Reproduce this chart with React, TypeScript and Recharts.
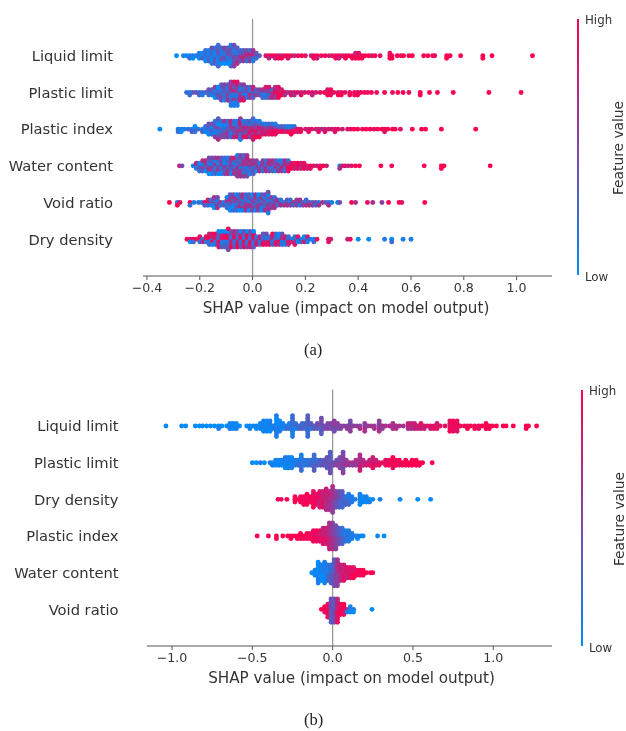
import React from "react";
import { ScatterChart, Scatter, XAxis, YAxis, ReferenceLine, Label } from "recharts";

type Col = [number, string];

// Each column: SHAP value, then one digit per stacked dot (feature value 0 low .. 9 high), centre outward.
const featuresA = ["Liquid limit", "Plastic limit", "Plastic index", "Water content", "Void ratio", "Dry density"];
const ticksA = [-0.4, -0.2, 0, 0.2, 0.4, 0.6, 0.8, 1.0];

const aLiquid: Col[] = [[-0.288,"0"],[-0.262,"1"],[-0.25,"0"],[-0.238,"12"],[-0.226,"10"],[-0.214,"1"],[-0.202,"201"],[-0.19,"130"],[-0.178,"21302"],[-0.166,"12031"],[-0.154,"2130214"],[-0.142,"1204132"],[-0.13,"213041322"],[-0.118,"1324102"],[-0.106,"2413205"],[-0.094,"3142403"],[-0.082,"324130421"],[-0.07,"452314254"],[-0.058,"4315263"],[-0.046,"56342"],[-0.034,"67453"],[-0.022,"75624"],[-0.01,"64752"],[0.002,"53716"],[0.014,"623"],[0.026,"3"],[0.05,"8"],[0.062,"86"],[0.074,"9"],[0.086,"87"],[0.098,"89"],[0.11,"79"],[0.122,"8"],[0.134,"98"],[0.146,"8"],[0.158,"7"],[0.172,"8"],[0.186,"9"],[0.2,"8"],[0.222,"7"],[0.232,"89"],[0.244,"97"],[0.26,"8"],[0.275,"9"],[0.29,"7"],[0.302,"8"],[0.315,"89"],[0.327,"97"],[0.34,"8"],[0.352,"89"],[0.364,"9"],[0.378,"89"],[0.39,"987"],[0.402,"998"],[0.414,"89"],[0.426,"9"],[0.44,"9"],[0.452,"8"],[0.464,"9"],[0.483,"8"],[0.52,"898"],[0.528,"99"],[0.548,"9"],[0.562,"8"],[0.572,"9"],[0.592,"9"],[0.605,"9"],[0.648,"9"],[0.664,"9"],[0.682,"9"],[0.69,"8"],[0.735,"99"],[0.748,"9"],[0.788,"9"],[0.872,"99"],[0.907,"9"],[1.06,"9"]];
const aPlastic: Col[] = [[-0.25,"2"],[-0.238,"12"],[-0.226,"3"],[-0.214,"4"],[-0.202,"13"],[-0.19,"21"],[-0.178,"3"],[-0.166,"124"],[-0.154,"213"],[-0.142,"32105"],[-0.13,"14230"],[-0.118,"2315243"],[-0.106,"4132405"],[-0.094,"3524163"],[-0.082,"4251736251"],[-0.07,"5172364081"],[-0.058,"6241537281"],[-0.046,"3526174"],[-0.034,"4136285"],[-0.022,"51324"],[-0.01,"36152"],[0.002,"24637"],[0.014,"153"],[0.026,"245"],[0.038,"3162"],[0.05,"41527"],[0.062,"62438"],[0.074,"8537"],[0.086,"97856"],[0.098,"98798"],[0.11,"897"],[0.122,"96"],[0.134,"6"],[0.146,"78"],[0.158,"76"],[0.17,"8"],[0.184,"78"],[0.198,"7"],[0.212,"8"],[0.226,"87"],[0.24,"7"],[0.256,"8"],[0.272,"9"],[0.284,"897"],[0.296,"989"],[0.308,"8"],[0.324,"79"],[0.336,"89"],[0.35,"8"],[0.368,"89"],[0.386,"98"],[0.398,"89"],[0.41,"8"],[0.424,"9"],[0.436,"8"],[0.45,"9"],[0.47,"8"],[0.5,"9"],[0.53,"8"],[0.55,"9"],[0.57,"9"],[0.592,"8"],[0.635,"99"],[0.67,"9"],[0.7,"9"],[0.76,"9"],[0.895,"9"],[1.017,"9"]];
const aIndex: Col[] = [[-0.351,"0"],[-0.282,"12"],[-0.27,"10"],[-0.258,"1"],[-0.244,"2"],[-0.23,"13"],[-0.218,"120"],[-0.206,"2"],[-0.19,"13"],[-0.178,"102"],[-0.166,"21304"],[-0.154,"13024"],[-0.142,"2140352"],[-0.13,"315204163"],[-0.118,"4213052"],[-0.106,"1325046"],[-0.094,"3426152"],[-0.082,"4351627"],[-0.07,"5463172"],[-0.058,"4635271"],[-0.046,"564372815"],[-0.034,"6574381"],[-0.022,"7465382"],[-0.01,"5768243"],[0.002,"786539172"],[0.014,"6857492"],[0.026,"7685391"],[0.038,"58672"],[0.05,"76481"],[0.062,"68572"],[0.074,"78692"],[0.086,"69481"],[0.098,"782"],[0.11,"693"],[0.122,"572"],[0.134,"291"],[0.146,"3819"],[0.158,"892"],[0.17,"97"],[0.182,"89"],[0.2,"7"],[0.212,"78"],[0.224,"8"],[0.24,"7"],[0.25,"78"],[0.262,"6"],[0.274,"78"],[0.288,"7"],[0.3,"8"],[0.312,"78"],[0.324,"8"],[0.34,"7"],[0.36,"8"],[0.372,"8"],[0.384,"9"],[0.398,"9"],[0.416,"8"],[0.43,"9"],[0.445,"9"],[0.46,"8"],[0.474,"9"],[0.49,"9"],[0.5,"98"],[0.512,"9"],[0.53,"9"],[0.54,"9"],[0.56,"8"],[0.605,"9"],[0.64,"9"],[0.655,"9"],[0.715,"9"],[0.845,"9"]];
const aWater: Col[] = [[-0.277,"7"],[-0.267,"4"],[-0.225,"1"],[-0.213,"317"],[-0.201,"1402"],[-0.189,"25136"],[-0.177,"14607"],[-0.165,"3516204"],[-0.153,"2615304"],[-0.141,"4162035"],[-0.129,"3516206"],[-0.117,"6142503"],[-0.105,"4613052"],[-0.093,"5216361"],[-0.081,"6342516"],[-0.069,"6215357"],[-0.057,"162536451"],[-0.045,"614526365"],[-0.033,"526361452"],[-0.021,"516253746"],[-0.009,"635261"],[0.003,"616453"],[0.015,"25615"],[0.027,"5416"],[0.039,"63625"],[0.051,"16362"],[0.063,"52646"],[0.075,"61536"],[0.087,"26514"],[0.099,"53661"],[0.111,"47251"],[0.123,"73627"],[0.135,"79682"],[0.147,"897"],[0.159,"978"],[0.171,"889"],[0.183,"967"],[0.195,"798"],[0.207,"87"],[0.219,"98"],[0.231,"8"],[0.243,"7"],[0.255,"89"],[0.267,"9"],[0.28,"7"],[0.33,"16"],[0.34,"7"],[0.35,"8"],[0.362,"7"],[0.375,"8"],[0.39,"9"],[0.405,"9"],[0.486,"9"],[0.527,"9"],[0.65,"9"],[0.715,"99"],[0.725,"9"],[0.9,"9"]];
const aVoid: Col[] = [[-0.315,"9"],[-0.285,"19"],[-0.275,"8"],[-0.237,"92"],[-0.222,"1"],[-0.205,"2"],[-0.193,"1"],[-0.181,"83"],[-0.169,"927"],[-0.157,"712"],[-0.145,"61306"],[-0.133,"25164"],[-0.121,"62"],[-0.109,"13"],[-0.097,"51620"],[-0.085,"2461503"],[-0.073,"6130525"],[-0.061,"5153620"],[-0.049,"1546203"],[-0.037,"5215606"],[-0.025,"4536162"],[-0.013,"2615403"],[-0.001,"1565240"],[0.011,"5234616"],[0.023,"1536250"],[0.035,"4521603"],[0.047,"1352064"],[0.059,"251636014"],[0.071,"63255"],[0.083,"16462"],[0.095,"526"],[0.107,"561"],[0.119,"25"],[0.131,"463"],[0.143,"152"],[0.155,"63"],[0.167,"255"],[0.179,"616"],[0.191,"35"],[0.203,"162"],[0.215,"46"],[0.227,"35"],[0.239,"52"],[0.251,"16"],[0.265,"6"],[0.277,"3"],[0.288,"26"],[0.3,"1"],[0.322,"0"],[0.33,"4"],[0.375,"9"],[0.39,"6"],[0.435,"8"],[0.455,"6"],[0.49,"5"],[0.515,"9"],[0.555,"9"],[0.565,"8"],[0.652,"9"]];
const aDry: Col[] = [[-0.248,"9"],[-0.236,"70"],[-0.224,"92"],[-0.212,"8"],[-0.2,"918"],[-0.188,"17"],[-0.176,"928"],[-0.164,"81927"],[-0.152,"29718"],[-0.14,"81729"],[-0.128,"1927380"],[-0.116,"9281730"],[-0.104,"7192830"],[-0.092,"918273049"],[-0.08,"2817394"],[-0.068,"7192836"],[-0.056,"1728394"],[-0.044,"8192730"],[-0.032,"2917384"],[-0.02,"7182950"],[-0.008,"1829374"],[0.004,"7281930"],[0.016,"2718"],[0.028,"8172"],[0.04,"16293"],[0.052,"27184"],[0.064,"1728"],[0.076,"61729"],[0.088,"17283"],[0.1,"28160"],[0.112,"71624"],[0.124,"8271"],[0.136,"1827"],[0.148,"17"],[0.16,"1628"],[0.172,"208"],[0.184,"13"],[0.196,"170"],[0.208,"217"],[0.22,"1"],[0.232,"02"],[0.244,"8"],[0.288,"98"],[0.296,"7"],[0.36,"7"],[0.37,"8"],[0.4,"0"],[0.44,"0"],[0.5,"1"],[0.527,"02"],[0.57,"1"],[0.6,"1"]];
const rowsA = [aLiquid, aPlastic, aIndex, aWater, aVoid, aDry];

const featuresB = ["Liquid limit", "Plastic limit", "Dry density", "Plastic index", "Water content", "Void ratio"];
const ticksB = [-1.0, -0.5, 0, 0.5, 1.0];

const bLiquid: Col[] = [[-1.038,"0"],[-0.94,"0"],[-0.915,"0"],[-0.855,"0"],[-0.83,"0"],[-0.81,"0"],[-0.785,"0"],[-0.76,"0"],[-0.735,"0"],[-0.71,"01"],[-0.69,"0"],[-0.66,"0"],[-0.64,"010"],[-0.62,"101"],[-0.6,"010"],[-0.58,"0"],[-0.535,"0"],[-0.515,"01"],[-0.495,"0"],[-0.475,"10"],[-0.45,"010"],[-0.43,"10101"],[-0.41,"01010"],[-0.39,"10101"],[-0.37,"11"],[-0.35,"110101011"],[-0.33,"11010"],[-0.31,"101"],[-0.29,"12"],[-0.27,"121"],[-0.25,"212121212"],[-0.23,"212"],[-0.21,"22"],[-0.19,"232"],[-0.17,"322"],[-0.155,"323232323"],[-0.135,"323"],[-0.115,"33"],[-0.095,"434"],[-0.07,"4343434"],[-0.05,"44"],[-0.03,"454"],[-0.01,"445"],[0.01,"54545"],[0.03,"545"],[0.05,"45"],[0.07,"5"],[0.09,"55"],[0.11,"55454"],[0.13,"5"],[0.15,"5"],[0.17,"56"],[0.2,"5656"],[0.22,"5"],[0.24,"6"],[0.26,"56"],[0.29,"56565"],[0.31,"65"],[0.33,"6"],[0.355,"6"],[0.375,"666"],[0.395,"66"],[0.415,"6"],[0.44,"6"],[0.47,"767"],[0.49,"767"],[0.51,"777"],[0.53,"77"],[0.55,"778"],[0.57,"77"],[0.59,"8"],[0.61,"87"],[0.63,"88"],[0.65,"887"],[0.67,"8"],[0.7,"8"],[0.73,"88898"],[0.75,"89889"],[0.775,"88988"],[0.795,"8"],[0.82,"9"],[0.84,"89"],[0.86,"9"],[0.885,"89"],[0.91,"98"],[0.93,"9"],[0.955,"899"],[0.975,"99"],[0.995,"9"],[1.02,"9"],[1.062,"9"],[1.08,"9"],[1.125,"9"],[1.205,"99"],[1.22,"9"],[1.27,"9"]];
const bPlastic: Col[] = [[-0.5,"0"],[-0.475,"0"],[-0.45,"1"],[-0.425,"0"],[-0.39,"1"],[-0.375,"01"],[-0.355,"101"],[-0.335,"010"],[-0.315,"101"],[-0.295,"10101"],[-0.275,"11011"],[-0.255,"10110"],[-0.235,"111"],[-0.215,"121"],[-0.195,"1212121"],[-0.175,"212"],[-0.155,"221"],[-0.135,"222"],[-0.115,"2323232"],[-0.095,"232"],[-0.075,"333"],[-0.055,"343"],[-0.035,"43434"],[-0.015,"443434343"],[0.005,"44"],[0.025,"454"],[0.045,"55454"],[0.065,"555454554"],[0.085,"565"],[0.105,"65"],[0.125,"65"],[0.145,"656"],[0.17,"6767676"],[0.19,"676"],[0.21,"77"],[0.23,"787"],[0.25,"78787"],[0.27,"787"],[0.29,"88"],[0.31,"8"],[0.33,"888"],[0.35,"898"],[0.375,"98989"],[0.395,"898"],[0.415,"989"],[0.435,"99"],[0.455,"989"],[0.475,"99"],[0.495,"999"],[0.52,"999"],[0.54,"99"],[0.56,"9"],[0.62,"9"]];
const bDry: Col[] = [[-0.34,"9"],[-0.32,"8"],[-0.285,"9"],[-0.235,"999"],[-0.215,"9"],[-0.2,"998"],[-0.18,"9899"],[-0.16,"89899"],[-0.14,"989"],[-0.12,"8989898"],[-0.1,"88988"],[-0.08,"8787878"],[-0.06,"7878787"],[-0.04,"767676767"],[-0.02,"67667676"],[0,"65656565656"],[0.02,"5454545"],[0.04,"4343434"],[0.06,"3232323"],[0.08,"2323"],[0.1,"12121"],[0.12,"211"],[0.14,"1"],[0.17,"10101"],[0.19,"010"],[0.21,"101"],[0.23,"01"],[0.25,"0"],[0.295,"1"],[0.42,"0"],[0.53,"0"],[0.61,"0"]];
const bIndex: Col[] = [[-0.47,"9"],[-0.4,"9"],[-0.35,"99"],[-0.31,"9"],[-0.28,"9"],[-0.26,"99"],[-0.24,"9"],[-0.22,"99"],[-0.2,"989"],[-0.18,"99"],[-0.16,"989"],[-0.14,"898"],[-0.12,"89898"],[-0.1,"98889"],[-0.08,"88788"],[-0.06,"7878787"],[-0.04,"7878777"],[-0.02,"67676767676"],[0,"56565656565"],[0.02,"4545454545"],[0.04,"3434343"],[0.06,"2323232"],[0.08,"12121"],[0.1,"11211"],[0.12,"111"],[0.14,"1"],[0.155,"10"],[0.175,"1"],[0.19,"0"],[0.28,"0"],[0.32,"0"]];
const bWater: Col[] = [[-0.13,"0"],[-0.11,"101"],[-0.09,"010101010"],[-0.07,"1010101"],[-0.05,"101010101"],[-0.03,"1212121"],[-0.01,"23232323"],[0.01,"34343434343"],[0.03,"65656565656"],[0.05,"7676767"],[0.07,"7878787"],[0.09,"87878"],[0.11,"88788"],[0.13,"89898"],[0.15,"898"],[0.17,"989"],[0.19,"999"],[0.21,"9"],[0.235,"9"],[0.25,"9"]];
const bVoid: Col[] = [[-0.07,"9"],[-0.05,"989"],[-0.03,"898989"],[-0.01,"4343434343"],[0.01,"3434343434"],[0.03,"7878787878"],[0.05,"89898"],[0.07,"98989"],[0.09,"61"],[0.11,"101"],[0.13,"10"],[0.245,"0"]];
const rowsB = [bLiquid, bPlastic, bDry, bIndex, bWater, bVoid];

const LANE = 0.071;
const LOW = [0, 139, 251];
const HIGH = [255, 0, 81];

function shade(d: number) {
  const t = d / 9;
  const c = LOW.map((l, i) => Math.round(l + (HIGH[i] - l) * t));
  return `rgb(${c[0]},${c[1]},${c[2]})`;
}

function toPoints(cols: Col[], row: number) {
  return cols.flatMap(([x, s]) =>
    [...s].map((d, i) => ({ x, y: row + ((i + 1) >> 1) * (i % 2 ? 1 : -1) * LANE, f: Number(d) }))
  );
}

const Dot = (p: any) => <circle cx={p.cx} cy={p.cy} r={2.45} fill={shade(p.payload.f)} />;

const font = "DejaVu Sans";
const ink = "#333";

function Panel(props: {
  top: number; left: number; right: number; plotTop: number; plotBottom: number; height: number;
  domain: [number, number]; ticks: number[]; rows: Col[][]; names: string[]; labelRight: number; labelOffset: number; labelDx: number;
}) {
  const { top, left, right, plotTop, plotBottom, height, domain, ticks, rows, names, labelRight, labelOffset, labelDx } = props;
  return (
    <div style={{ position: "absolute", left: 0, top }}>
      <ScatterChart width={626} height={height} margin={{ top: plotTop - top, bottom: 0, left: 0, right: 626 - right }}>
        <XAxis
          type="number" dataKey="x" domain={domain} ticks={ticks} allowDataOverflow
          height={height - (plotBottom - top)} interval={0}
          tickFormatter={(v: number) => (v < 0 ? "\u2212" : "") + Math.abs(v).toFixed(1)}
          tick={{ fontFamily: font, fontSize: 12.6, fill: ink }}
          tickSize={4} stroke="#555" tickMargin={3}
        >
          <Label value="SHAP value (impact on model output)" position="insideBottom" offset={labelOffset} dx={labelDx}
            style={{ fontFamily: font, fontSize: 15.2, fill: ink }} />
        </XAxis>
        <YAxis
          type="number" dataKey="y" domain={[-1, 6]} reversed ticks={[0, 1, 2, 3, 4, 5]} interval={0}
          width={left} axisLine={false} tickLine={false} tickMargin={left - labelRight - 5.5}
          tickFormatter={(v: number) => names[v] ?? ""}
          tick={{ fontFamily: font, fontSize: 14.7, fill: ink }}
        />
        <ReferenceLine x={0} stroke="#999" strokeWidth={1.3} />
        {rows.map((cols, r) => (
          <Scatter key={names[r]} name={names[r]} data={toPoints(cols, r)} shape={Dot} isAnimationActive={false} />
        ))}
      </ScatterChart>
    </div>
  );
}

function ColorBar(props: { x: number; y0: number; y1: number; textX: number; titleX: number; titleY: number }) {
  const { x, y0, y1, textX, titleX, titleY } = props;
  const base: React.CSSProperties = { position: "absolute", fontFamily: font, color: ink, lineHeight: "14px", whiteSpace: "nowrap" };
  return (
    <>
      <div style={{ position: "absolute", left: x - 1.25, top: y0, width: 2.5, height: y1 - y0, background: `linear-gradient(to top, ${shade(0)}, ${shade(4.5)}, ${shade(9)})` }} />
      <div style={{ ...base, left: textX, top: y0 - 6, fontSize: 11.8 }}>High</div>
      <div style={{ ...base, left: textX, top: y1 - 5, fontSize: 11.8 }}>Low</div>
      <div style={{ ...base, left: titleX, top: titleY, fontSize: 13.8, transform: "translate(-50%,-50%) rotate(-90deg)" }}>Feature value</div>
    </>
  );
}

const captionStyle: React.CSSProperties = { position: "absolute", fontFamily: "Liberation Serif", fontSize: 16.5, color: "#222", lineHeight: "18px", whiteSpace: "nowrap" };

export default function App() {
  return (
    <div style={{ position: "absolute", left: 0, top: 0, width: 626, height: 731, background: "#fff", overflow: "hidden", filter: "blur(0.45px)" }}>
      <Panel top={0} left={143} right={552} plotTop={19} plotBottom={276} height={340} domain={[-0.415, 1.134]} ticks={ticksA} rows={rowsA} names={featuresA} labelRight={113.5} labelOffset={27} labelDx={-1.5} />
      <Panel top={370} left={147} right={552} plotTop={389.4} plotBottom={646} height={330} domain={[-1.156, 1.366]} ticks={ticksB} rows={rowsB} names={featuresB} labelRight={119} labelOffset={17} labelDx={2} />
      <ColorBar x={578} y0={19} y1={275} textX={585} titleX={618} titleY={148} />
      <ColorBar x={582} y0={390} y1={646} textX={589} titleX={619} titleY={519} />
      <div style={{ ...captionStyle, left: 304, top: 341 }}>(a)</div>
      <div style={{ ...captionStyle, left: 304, top: 711 }}>(b)</div>
    </div>
  );
}
